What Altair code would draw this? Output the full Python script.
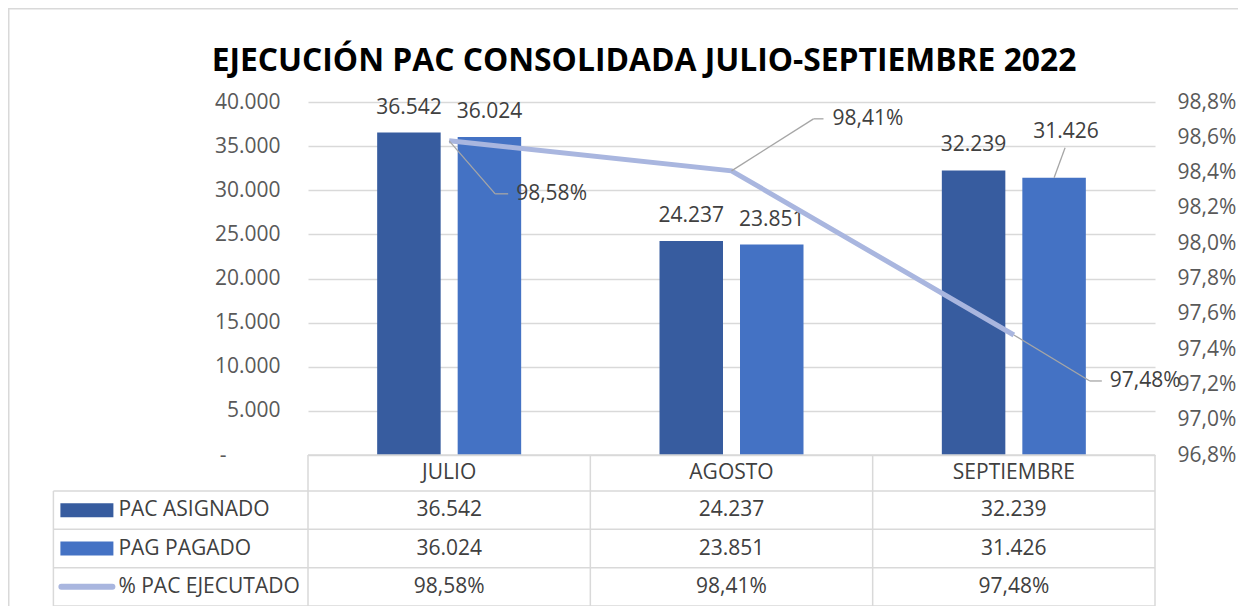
import altair as alt
import pandas as pd

# ---------------- data ----------------
months = ["JULIO", "AGOSTO", "SEPTIEMBRE"]
pac_asignado = [36542, 24237, 32239]
pag_pagado = [36024, 23851, 31426]
pct_ejecutado = [0.9858, 0.9841, 0.9748]
series = ["PAC ASIGNADO", "PAG PAGADO", "% PAC EJECUTADO"]
left_ticks = [0, 5000, 10000, 15000, 20000, 25000, 30000, 35000, 40000]
right_ticks = [0.968, 0.970, 0.972, 0.974, 0.976, 0.978, 0.980, 0.982, 0.984, 0.986, 0.988]
title_text = "EJECUCIÓN PAC CONSOLIDADA JULIO-SEPTIEMBRE 2022"

# ---------------- style / layout ----------------
colors = ["#375C9F", "#4472C4", "#A9B6DF"]
FONT = "Open Sans"
TXT = "#404040"
AX = "#595959"
GRID = "#d9d9d9"
LEADER = "#a6a6a6"
W, H = 847, 353
PAD = {"left": 300, "top": 94, "right": 83, "bottom": 151}
BAR_W, BAR_GAP = 63.5, 17
GROUP_W = 2 * BAR_W + BAR_GAP
STEP = W / len(months)
P_INNER = 1 - GROUP_W / STEP
Q_INNER = (GROUP_W - 2 * BAR_W) / (GROUP_W - BAR_W)
SUB_HALF = (BAR_W + BAR_GAP) / 2
LABEL_COL_W = 254.6
HEADER_H = 36
TABLE_H = 151

# label placement (pixel offsets from the data point)
moved_bar_label = ("SEPTIEMBRE", "PAG PAGADO")
moved_bar_leader = (11, -30)
moved_bar_text = (12, -40)
line_label_layout = {
    "JULIO": (46, 53, 59, 67),
    "AGOSTO": (82, -52, 92, 101),
    "SEPTIEMBRE": (76, 46, 88, 96),
}


def fmt_int(v):
    return f"{v:,}".replace(",", ".")


def fmt_pct(v):
    return f"{v * 100:.2f}%".replace(".", ",")


# ---------------- tables ----------------
bar_rows = []
for s, vals in ((series[0], pac_asignado), (series[1], pag_pagado)):
    for m, v in zip(months, vals):
        bar_rows.append({"month": m, "series": s, "value": v, "label": fmt_int(v),
                         "moved": (m, s) == moved_bar_label})
bar_df = pd.DataFrame(bar_rows)

line_df = pd.DataFrame({"month": months, "pct": pct_ejecutado,
                        "series": series[2], "label": [fmt_pct(p) for p in pct_ejecutado]})

x_enc = alt.X("month:N", sort=months, axis=None,
              scale=alt.Scale(paddingInner=P_INNER, paddingOuter=P_INNER / 2))
color_enc = alt.Color("series:N", scale=alt.Scale(domain=series, range=colors), legend=None)
xoff_enc = alt.XOffset("series:N", sort=series[:2],
                       scale=alt.Scale(paddingInner=Q_INNER, paddingOuter=0))

y_left = alt.Y("value:Q", scale=alt.Scale(domain=[0, 40000], nice=False, zero=True),
               axis=alt.Axis(orient="left", values=left_ticks, title=None, domain=False,
                             ticks=False, tickSize=0, grid=True,
                             labelPadding={"condition": {"test": "datum.value === 0", "value": 82}, "value": 28},
                             gridColor=GRID, gridWidth=1.5, labelFont=FONT,
                             labelFontSize=21, labelColor=AX, labelOverlap=False,
                             labelExpr="datum.value == 0 ? '-' : replace(format(datum.value, ','), ',', '.')"))
y_left2 = alt.Y2("value:Q")

bars = alt.Chart(bar_df).mark_bar().encode(x=x_enc, xOffset=xoff_enc, y=y_left, color=color_enc)

bar_labels = alt.Chart(bar_df).transform_filter("!datum.moved").mark_text(
    dy=-19, baseline="alphabetic", font=FONT, fontSize=21, color=TXT
).encode(x=x_enc, xOffset=xoff_enc, y=y_left, text="label:N")

moved_label = alt.Chart(bar_df).transform_filter("datum.moved").mark_text(
    dx=moved_bar_text[0], dy=moved_bar_text[1], baseline="alphabetic", font=FONT,
    fontSize=21, color=TXT
).encode(x=x_enc, xOffset=xoff_enc, y=y_left, text="label:N")

moved_leader = alt.Chart(bar_df).transform_filter("datum.moved").mark_rule(
    color=LEADER, strokeWidth=1.3, xOffset=SUB_HALF,
    x2Offset=SUB_HALF + moved_bar_leader[0], y2Offset=moved_bar_leader[1]
).encode(x=x_enc, x2="month:N", y=y_left, y2=y_left2)

bar_group = alt.layer(bars, bar_labels, moved_label, moved_leader)

y_right = alt.Y("pct:Q", scale=alt.Scale(domain=[0.968, 0.988], nice=False, zero=False),
                axis=alt.Axis(orient="right", values=right_ticks, title=None, domain=False,
                              ticks=False, tickSize=0, labelPadding=22, grid=False,
                              labelFont=FONT, labelFontSize=21, labelColor=AX, labelOverlap=False,
                              labelSeparation=0,
                              labelExpr="replace(format(datum.value, '.1%'), '.', ',')"))
y_right2 = alt.Y2("pct:Q")

line = alt.Chart(line_df).mark_line(strokeWidth=5).encode(x=x_enc, y=y_right, color=color_enc)

line_layers = [line]
for m in months:
    ex, ey, hx, tx = line_label_layout[m]
    base = alt.Chart(line_df).transform_filter(alt.datum.month == m)
    line_layers.append(base.mark_rule(color=LEADER, strokeWidth=1.3, x2Offset=ex, y2Offset=ey)
                       .encode(x=x_enc, x2="month:N", y=y_right, y2=y_right2))
    line_layers.append(base.mark_rule(color=LEADER, strokeWidth=1.3, xOffset=ex, yOffset=ey,
                                      x2Offset=hx, y2Offset=ey)
                       .encode(x=x_enc, x2="month:N", y=y_right, y2=y_right2))
    line_layers.append(base.mark_text(align="left", baseline="middle", dx=tx, dy=ey,
                                      font=FONT, fontSize=21, color=TXT)
                       .encode(x=x_enc, y=y_right, text="label:N"))
line_group = alt.layer(*line_layers)

main = alt.layer(bar_group, line_group).resolve_scale(y="independent")

# ---------------- data table ----------------
n_rows = len(series) + 1
n_cols = len(months)
tx_scale = alt.Scale(domain=[-1, 0, n_cols], range=[-LABEL_COL_W, 0, W], nice=False, zero=False)
ty_scale = alt.Scale(domain=[0, 1, n_rows], range=[H, H + HEADER_H, H + TABLE_H], nice=False, zero=False)

grid_rows = []
for r in range(n_rows + 1):
    grid_rows.append({"x": 0 if r == 0 else -1, "x2": n_cols, "y": r, "y2": r})
for c in range(-1, n_cols + 1):
    grid_rows.append({"x": c, "x2": c, "y": 1 if c == -1 else 0, "y2": n_rows})
grid_df = pd.DataFrame(grid_rows)

cells = []
for i, m in enumerate(months):
    cells.append({"c": i + 0.5, "r": 0.5, "text": m})
    cells.append({"c": i + 0.5, "r": 1.5, "text": fmt_int(pac_asignado[i])})
    cells.append({"c": i + 0.5, "r": 2.5, "text": fmt_int(pag_pagado[i])})
    cells.append({"c": i + 0.5, "r": 3.5, "text": fmt_pct(pct_ejecutado[i])})
cell_df = pd.DataFrame(cells)

label_df = pd.DataFrame({"c": [-1] * len(series), "r": [k + 1.5 for k in range(len(series))],
                         "series": series})

tX = alt.X("x:Q", scale=tx_scale, axis=None)
tY = alt.Y("y:Q", scale=ty_scale, axis=None)
table_lines = alt.Chart(grid_df).mark_rule(color=GRID, strokeWidth=1.5).encode(
    x=tX, x2="x2:Q", y=tY, y2="y2:Q")

cX = alt.X("c:Q", scale=tx_scale, axis=None)
cY = alt.Y("r:Q", scale=ty_scale, axis=None)
table_text = alt.Chart(cell_df).mark_text(font=FONT, fontSize=21, color=TXT, baseline="middle").encode(
    x=cX, y=cY, text="text:N")
table_labels = alt.Chart(label_df).mark_text(font=FONT, fontSize=21, color=TXT, baseline="middle",
                                             align="left", dx=65).encode(x=cX, y=cY, text="series:N")
swatches = alt.Chart(label_df).transform_filter(alt.FieldOneOfPredicate(field="series", oneOf=series[:2])).mark_rect(
    xOffset=7, x2Offset=60, yOffset=-7, y2Offset=7).encode(x=cX, x2="c:Q", y=cY, y2="r:Q", color=color_enc)
line_swatch = alt.Chart(label_df).transform_filter(alt.datum.series == series[2]).mark_rule(
    xOffset=8, x2Offset=59, strokeWidth=6, strokeCap="round").encode(x=cX, x2="c:Q", y=cY, color=color_enc)

# outer chart frame (left and top edges of the chart area)
frame_src = pd.DataFrame({"edge": ["top", "left"]})
left_edge = -PAD["left"] + 0.75
top_edge = -PAD["top"] + 0.75
frame_top = alt.Chart(frame_src).transform_filter(alt.datum.edge == "top").mark_rule(
    color="#d9d9d9", strokeWidth=1.5).encode(
    x=alt.value(-PAD["left"]), x2=alt.value(W + PAD["right"]),
    y=alt.value(top_edge), y2=alt.value(top_edge))
frame_left = alt.Chart(frame_src).transform_filter(alt.datum.edge == "left").mark_rule(
    color="#d9d9d9", strokeWidth=1.5).encode(
    x=alt.value(left_edge), x2=alt.value(left_edge),
    y=alt.value(-PAD["top"]), y2=alt.value(H + PAD["bottom"]))

table = alt.layer(table_lines, table_text, table_labels, swatches, line_swatch, frame_top, frame_left)

chart = alt.layer(main, table).resolve_scale(x="independent", y="independent").properties(
    width=W, height=H,
    autosize=alt.AutoSizeParams(type="none"),
    padding=PAD,
    title=alt.TitleParams(text=title_text, font=FONT, fontSize=31.8, fontWeight="bold",
                          color="#000000", anchor="middle", frame="group", dx=-87.5,
                          offset=13, dy=83.5),
).configure_view(stroke=None).configure_axis(labelOverlap=False)

chart.save("out.html", embed_options={"renderer": "svg", "actions": False})
